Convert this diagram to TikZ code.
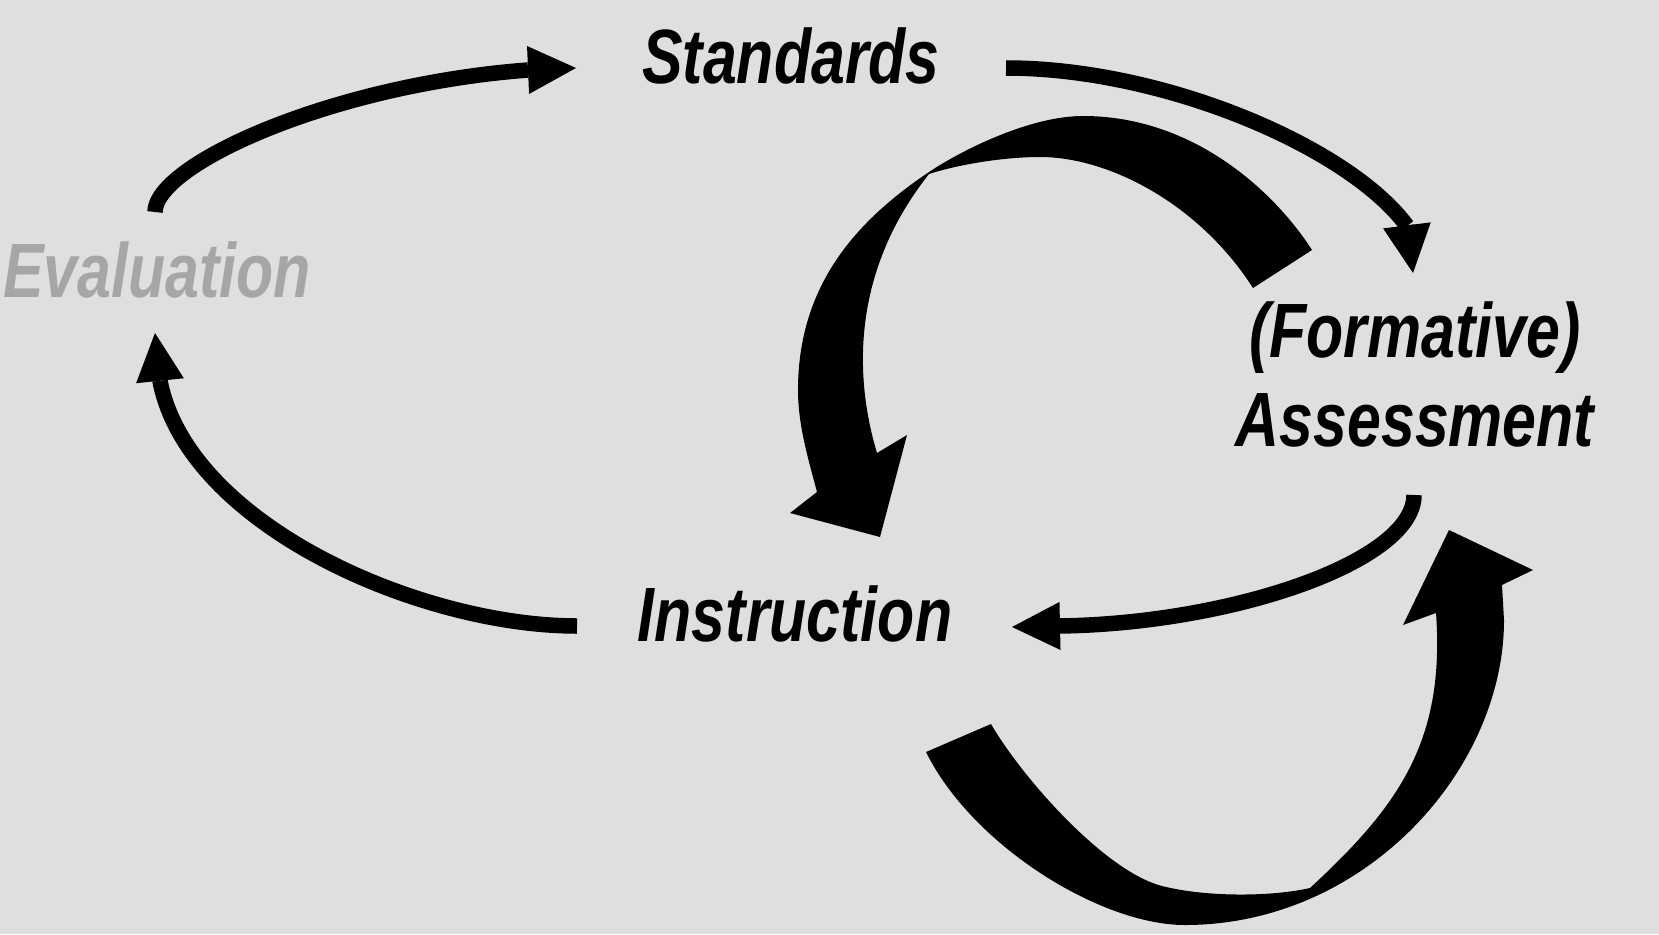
\documentclass[tikz,border=0pt]{standalone}
\usepackage{fontspec}
\newfontfamily\labfont{Liberation Sans}[FakeStretch=0.79]
\usetikzlibrary{arrows.meta}
\definecolor{bg}{RGB}{223,223,223}
\definecolor{evalgray}{RGB}{166,166,166}
\begin{document}
\begin{tikzpicture}[x=1pt,y=-1pt,
  lab/.style={font=\labfont\bfseries\itshape\fontsize{77}{80}\selectfont, inner sep=0pt, anchor=base},
  thinarrow/.style={line width=15.5pt, -{Triangle[length=48pt,width=48pt,line width=0pt]}},
  bigarrow/.style={fill=black}]
\fill[bg] (0,0) rectangle (1659,934);
\useasboundingbox (0,0) rectangle (1659,934);

% labels
\node[lab] (std) at (791,84) {Standards};
\node[lab, text=evalgray] (eva) at (157,297) {Evaluation};
\node[lab] (ins) at (795,641) {Instruction};
\node[lab] (fa1) at (1415,357) {(Formative)};
\node[lab] (fa2) at (1415,446) {Assessment};

% connector end points
\coordinate (e1s) at (155,212); \coordinate (e1b) at (528,70);  \coordinate (e1t) at (576,68);
\coordinate (e2s) at (577,626); \coordinate (e2b) at (160,381); \coordinate (e2t) at (155,333);
\coordinate (e3s) at (1006,68); \coordinate (e3b) at (1407,226); \coordinate (e3t) at (1413,273);
\coordinate (e4s) at (1414,495); \coordinate (e4b) at (1058,626); \coordinate (e4t) at (1012,627);

% thin arrows
\draw[thinarrow] (e1s) .. controls (155,165) and (330,85) .. (e1b) -- (e1t);
\draw[thinarrow] (e2s) .. controls (420,626) and (188,525) .. (e2b) -- (e2t);
\draw[thinarrow] (e3s) .. controls (1165,68) and (1350,148) .. (e3b) -- (e3t);
\draw[thinarrow] (e4s) .. controls (1414,562) and (1230,624) .. (e4b) -- (e4t);

% big arrow: Assessment -> Instruction (top)
\fill[bigarrow] (1312,250) .. controls (1274,191) and (1193,116) .. (1083,116)
  .. controls (1030,116) and (962,150) .. (929,172)
  .. controls (862.6,216.8) and (798,280) .. (798,390)
  .. controls (798,425) and (808,458) .. (817,492)
  -- (790,513) -- (880,537) -- (907,435) -- (877,453)
  .. controls (858,390) and (845,280) .. (929,174)
  .. controls (960,164) and (1005,157) .. (1040,157)
  .. controls (1110,157) and (1200,205) .. (1253,288)
  -- cycle;

% big arrow: Instruction -> Assessment (bottom)
\fill[bigarrow] (926,752) .. controls (972,845) and (1100,925) .. (1185,925)
  .. controls (1365,925) and (1504,770) .. (1504,620)
  -- (1502,585) -- (1533,570) -- (1449,530) -- (1403,625) -- (1436,613)
  .. controls (1445,740) and (1400,805) .. (1310,888)
  .. controls (1270,897) and (1205,897) .. (1162,886)
  .. controls (1104,871) and (1021,776) .. (991,724)
  -- cycle;
\end{tikzpicture}
\end{document}
